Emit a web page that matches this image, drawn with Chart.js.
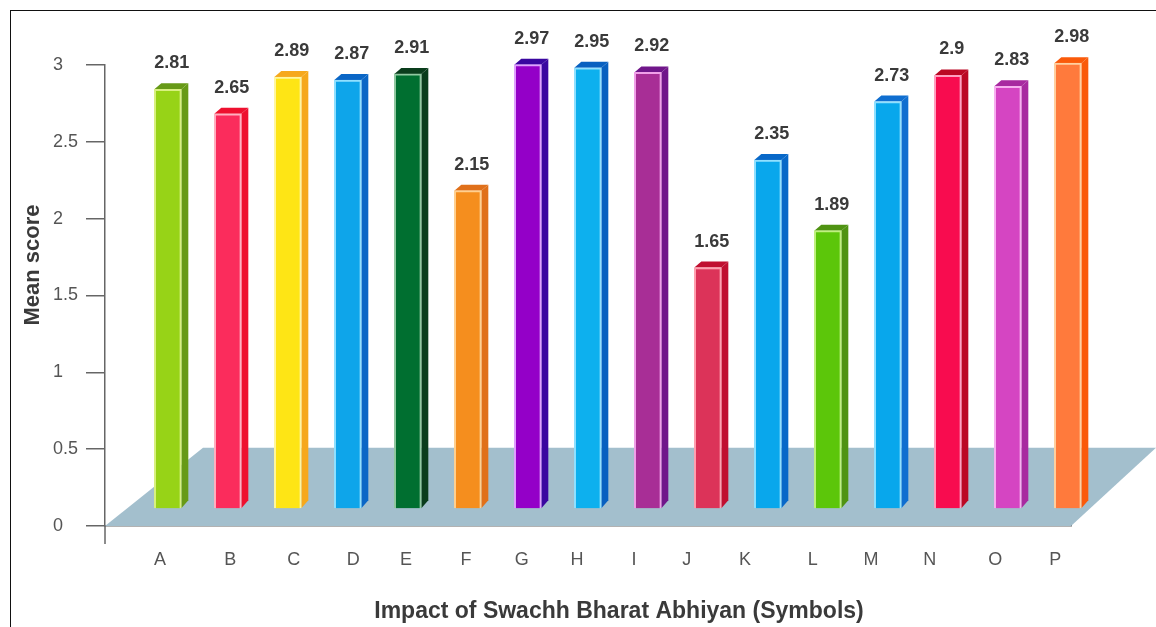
<!DOCTYPE html>
<html>
<head>
<meta charset="utf-8">
<title>Impact of Swachh Bharat Abhiyan</title>
<script src="https://cdn.jsdelivr.net/npm/chart.js@4"></script>
<style>
  html, body { margin: 0; padding: 0; background: #fff; overflow: hidden; }
  #wrap { position: relative; width: 1156px; height: 627px; }
  #frame { position: absolute; left: 10px; top: 10px; right: 0; bottom: 0; border-top: 1px solid #111; border-left: 1px solid #111; }
  canvas { position: absolute; left: 0; top: 0; }
</style>
</head>
<body>
<div id="wrap">
  <div id="frame"></div>
  <canvas id="chart" width="1156" height="627"></canvas>
</div>
<script>
// Data
const categories = ['A','B','C','D','E','F','G','H','I','J','K','L','M','N','O','P'];
const meanScores = [2.81,2.65,2.89,2.87,2.91,2.15,2.97,2.95,2.92,1.65,2.35,1.89,2.73,2.9,2.83,2.98];
const yTickStep = 0.5;
const yMax = 3;
const xTitle = 'Impact of Swachh Bharat Abhiyan (Symbols)';
const yTitle = 'Mean score';

// Colours per bar: front, side, top
const frontColors = ['#97d317','#fb2c5c','#fee515','#0ea5ea','#006f30','#f58e1e','#9400c8','#0db0ee','#a82e96','#dc3359','#09a7ec','#5cc60a','#08a7ec','#f80c4f','#d545c2','#ff7a3c'];
const sideColors  = ['#679a17','#ee102f','#f6a81c','#0a66c6','#0a3d1c','#e0701a','#3a06a0','#0860c0','#70168a','#c00f30','#0868c8','#4f9312','#0f6ed0','#bb0824','#a829a0','#fa5a0a'];
const edgeColors  = ['#d8f080','#ffb0c0','#fff6a0','#90e0ff','#90c8a0','#ffd090','#e0a0ff','#90e0ff','#f0a0e8','#ffa0b0','#90e0ff','#c0f080','#90e0ff','#ffa0c0','#f8b0f0','#ffd0a0'];

// The tick labels sit unevenly under the bars in the original
const labelSlots = [-0.13,1.04,2.10,3.09,3.97,4.97,5.90,6.82,7.77,8.65,9.62,10.75,11.72,12.70,13.79,14.79];

const depthX = 7, depthY = 6;
const FLOOR_VALUE = 0.084;
const INK = '#666';

// ── Floor, 3D faces, value labels, axis titles ──────────────────────────────
const floorPlugin = {
  id: 'floor',
  beforeDatasetsDraw(chart) {
    const { ctx, chartArea, scales } = chart;
    const y0 = scales.y.getPixelForValue(0);
    const yBack = scales.y.getPixelForValue(0.51);
    ctx.save();
    ctx.fillStyle = '#a3bfcd';
    ctx.beginPath();
    ctx.moveTo(chartArea.left, y0);
    ctx.lineTo(chartArea.left + 98, yBack);
    ctx.lineTo(chart.width, yBack);
    ctx.lineTo(chartArea.right, y0);
    ctx.closePath();
    ctx.fill();
    // y axis runs on below the zero line
    ctx.strokeStyle = INK;
    ctx.lineWidth = 1.5;
    ctx.beginPath();
    ctx.moveTo(chartArea.left, y0);
    ctx.lineTo(chartArea.left, y0 + 18);
    ctx.stroke();
    ctx.restore();
  }
};

const barsPlugin = {
  id: 'bars3d',
  beforeDatasetsDraw(chart) {
    const { ctx } = chart;
    chart.getDatasetMeta(0).data.forEach((bar, i) => {
      const right = bar.x + bar.width / 2;
      const left = bar.x - bar.width / 2;
      ctx.fillStyle = sideColors[i];
      ctx.beginPath();
      ctx.moveTo(right, bar.y);
      ctx.lineTo(right + depthX, bar.y - depthY);
      ctx.lineTo(right + depthX, bar.base - depthY - 2);
      ctx.lineTo(right, bar.base);
      ctx.closePath();
      ctx.fill();
      ctx.beginPath();
      ctx.moveTo(left, bar.y);
      ctx.lineTo(left + depthX, bar.y - depthY);
      ctx.lineTo(right + depthX, bar.y - depthY);
      ctx.lineTo(right, bar.y);
      ctx.closePath();
      ctx.fill();
    });
  },
  afterDatasetsDraw(chart) {
    const { ctx } = chart;
    ctx.save();
    ctx.font = 'bold 18px "Liberation Sans"';
    ctx.fillStyle = '#3a3a3a';
    ctx.textAlign = 'center';
    ctx.textBaseline = 'middle';
    chart.getDatasetMeta(0).data.forEach((bar, i) => {
      ctx.fillText(String(meanScores[i]), bar.x + 4, bar.y - 26);
    });
    ctx.restore();
  }
};

const titlesPlugin = {
  id: 'axisTitles',
  afterDraw(chart) {
    const { ctx } = chart;
    ctx.save();
    ctx.fillStyle = '#3a3a3a';
    ctx.textAlign = 'center';
    ctx.textBaseline = 'middle';
    ctx.font = 'bold 23px "Liberation Sans"';
    ctx.fillText(xTitle, 619, 612);
    ctx.translate(33, 265);
    ctx.rotate(-Math.PI / 2);
    ctx.font = 'bold 22px "Liberation Sans"';
    ctx.fillText(yTitle, 0, 0);
    ctx.restore();
  }
};

// ── Chart ───────────────────────────────────────────────────────────────────
new Chart(document.getElementById('chart'), {
  type: 'bar',
  data: {
    datasets: [{
      data: meanScores.map((v, i) => ({ x: i, y: v })),
      yAxisID: 'yBars',
      base: FLOOR_VALUE,
      backgroundColor: frontColors,
      borderColor: edgeColors,
      borderWidth: 2,
      barThickness: 27,
      clip: false
    }]
  },
  options: {
    responsive: false,
    animation: false,
    devicePixelRatio: 1,
    layout: { padding: { top: 65, left: 53, right: 85, bottom: 0 } },
    plugins: { legend: { display: false }, tooltip: { enabled: false } },
    scales: {
      x: {
        type: 'linear',
        offset: false,
        min: -1.047,
        max: 15.053,
        grid: { display: false },
        border: { color: INK, width: 1.5 },
        afterBuildTicks: axis => { axis.ticks = labelSlots.map(value => ({ value })); },
        afterFit: axis => { axis.height = 101; },
        ticks: {
          autoSkip: false,
          maxRotation: 0,
          padding: 15,
          color: '#555',
          font: { family: '"Liberation Sans"', size: 18 },
          callback: (v, i) => categories[i]
        }
      },
      y: {
        min: 0,
        max: yMax,
        grid: { drawOnChartArea: false, tickLength: 19, color: INK, lineWidth: 1.5 },
        border: { color: INK, width: 1.5 },
        afterFit: axis => { axis.width = 52; },
        ticks: {
          stepSize: yTickStep,
          crossAlign: 'far',
          color: '#555',
          font: { family: '"Liberation Sans"', size: 18 },
          callback: v => String(v)
        }
      },
      // bars stand on the floor, a little above and behind the zero line
      yBars: { display: false, min: -0.032, max: 2.968 }
    }
  },
  plugins: [floorPlugin, barsPlugin, titlesPlugin]
});
</script>
</body>
</html>
